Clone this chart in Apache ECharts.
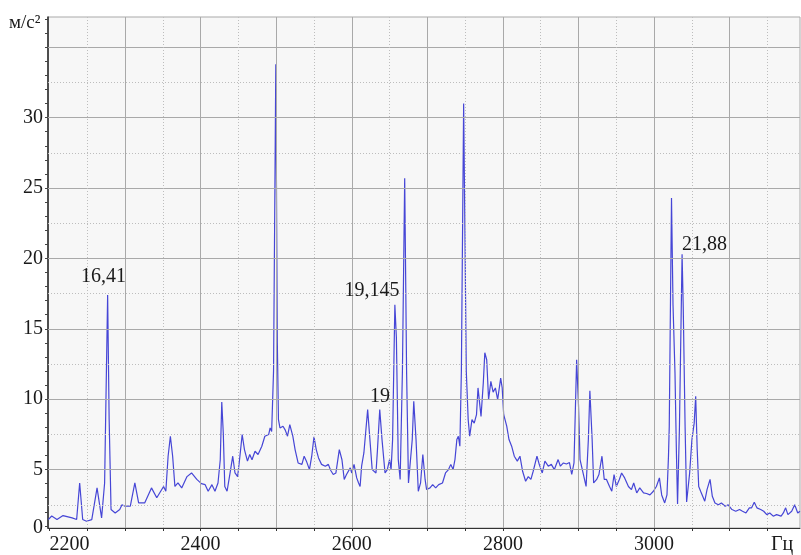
<!DOCTYPE html>
<html><head><meta charset="utf-8">
<script src="https://cdn.jsdelivr.net/npm/echarts@6/dist/echarts.min.js"></script>
<style>html,body{margin:0;padding:0;background:#fff}#c{width:801px;height:555px}</style>
</head><body><div id="c"></div>
<script>
// Frequency (Hz) and acceleration (m/s^2)
const freq = [2198.5,2203,2210,2218,2230,2236,2240,2244,2249,2256,2263,2269,2273,2277,2279,2281.5,2287,2293,2296,2300,2307,2313,2318,2326,2335,2342,2351,2354,2357,2360,2363,2366,2370,2375,2382,2388,2395,2401,2406,2410,2415,2419,2423,2426,2428,2430,2432,2435,2439,2442.5,2445.5,2449,2452,2455,2458,2462,2465,2468,2472,2476,2481,2485,2490,2492,2494,2496.5,2499.5,2501.5,2503,2505,2509,2512,2515,2518,2522,2525,2529,2534,2537,2540,2544,2547,2550,2553,2556,2560,2565,2569,2572,2575.5,2579,2583.5,2587,2590,2593,2598,2600,2603,2606.5,2609,2611,2613,2616,2621,2624,2627,2632,2634,2637,2640,2644,2647,2650,2652,2654,2657,2659,2661.5,2664,2667,2670,2672.5,2675,2677,2680,2682,2685,2688,2691,2694,2697,2699,2703.5,2707,2711,2715,2720,2724,2728,2731,2734,2736.5,2739,2741,2743,2745,2748,2751.5,2754,2756,2759,2762,2765,2767,2771,2774,2776,2778.5,2781,2784,2787,2790,2793,2797,2799,2801,2805,2808,2811.5,2815,2819,2822.5,2826,2830,2833.5,2837,2840,2845,2848,2852,2855.5,2860,2864,2868,2873,2876,2880,2884,2888,2891,2894,2897.5,2900,2902,2905,2910,2913,2915,2918,2920,2924,2927,2931,2934,2937,2941,2944,2947,2950,2954,2957,2961,2966,2970,2973,2977,2981,2986,2990,2994.5,2999,3003,3007,3010,3014,3017,3019,3020,3023,3025,3027.6,3029.5,3031,3033.5,3037,3038.5,3041,3043,3047,3050,3053,3055,3057,3059,3061.5,3064,3067,3070,3074,3077,3080.5,3085,3089,3094,3098,3103,3108,3113,3117,3121.5,3126,3129,3132.5,3136,3141,3145,3149,3153,3157.6,3162,3168,3171,3174,3177,3182,3186,3190,3193];
const accel = [1.45,1.7,1.45,1.73,1.57,1.45,4.05,1.45,1.33,1.45,3.7,1.57,4.05,17.4,8.55,2.16,1.92,2.16,2.5,2.4,2.4,4.05,2.63,2.63,3.7,3.0,3.8,3.46,5.95,7.37,5.95,3.8,4.05,3.7,4.5,4.76,4.3,4.0,3.93,3.46,3.93,3.46,4.05,5.7,9.8,7.6,3.8,3.46,4.76,5.95,4.76,4.5,5.95,7.49,6.42,5.6,6.07,5.7,6.3,6.07,6.66,7.37,7.49,7.96,7.7,12,33.8,14,8.55,7.96,8.08,7.8,7.37,8.2,7.37,6.42,5.47,5.37,5.95,5.6,5.0,5.95,7.32,6.42,5.83,5.37,5.24,5.37,4.95,4.65,4.76,6.42,5.7,4.3,4.65,5.12,4.76,5.37,4.41,4.05,3.8,5.24,6.18,9.26,7.13,5.0,4.76,6.42,9.26,7.13,4.76,5.0,5.71,5.0,7.13,16.7,14.4,5.71,4.3,12,25.7,12,4.05,3.93,7.13,9.85,7.13,3.46,4.05,6.07,4.3,3.58,3.7,3.93,3.7,3.93,4.05,4.76,5.0,5.37,5.0,5.71,7.13,7.37,6.66,12,31.0,12,8.55,7.37,8.55,8.3,8.9,10.8,8.78,11.16,13.3,12.8,9.97,11.27,10.5,10.8,9.97,11.5,10.8,8.9,8.08,7.13,6.66,5.95,5.6,5.95,4.88,4.17,4.5,4.3,4.88,5.95,5.37,4.76,5.6,5.24,5.37,5.0,5.71,5.24,5.47,5.4,5.5,4.65,5.47,12.8,9.5,5.71,5.0,3.8,7.13,10.6,7.13,4.05,4.3,4.65,5.95,4.3,4.3,3.8,3.46,4.65,3.8,4.3,4.76,4.41,3.8,3.58,4.05,3.34,3.7,3.34,3.3,3.2,3.46,3.8,4.41,3.2,2.63,3.2,5.95,8,24.3,16.7,11.9,6.2,2.56,8,20.3,16.6,8,2.7,4.76,7.13,8.3,10.2,6.42,3.8,3.46,3.58,2.75,3.58,4.3,3.1,2.63,2.5,2.63,2.4,2.5,2.16,2.04,2.16,2.04,1.92,2.28,2.28,2.68,2.28,2.16,2.04,1.8,1.92,1.69,1.8,1.69,1.92,2.28,1.8,2.04,2.5,1.92,2.04];

// Tick labels
const xTickLabels = [2200, 2400, 2600, 2800, 3000];
const yTickLabels = [0, 5, 10, 15, 20, 25, 30];

// Peak annotations
const annotText = ['16,41', '19,145', '19', '21,88'];
const annotFreq = [2271.6, 2626.7, 2637.3, 3066.6];
const annotVal = [18.67, 17.68, 10.15, 20.98];

const yUnit = 'м/с²';
const xUnit = 'Гц';

const xMin = 2198.1, xMax = 3193;
const yMin = 0.85, yMax = 37.15;

const FONT = 'Liberation Serif';
const majorStyle = { color: '#a9a9a9', width: 1, type: 'solid' };
const minorStyle = { color: '#bdbdbd', width: 1, type: [1, 2] };

const gridLines = [];
for (let v = 2.5; v < yMax; v += 2.5) {
  gridLines.push({ yAxis: v, lineStyle: (v % 5 === 0) ? majorStyle : minorStyle });
}
for (let f = 2250; f < xMax; f += 50) {
  gridLines.push({ xAxis: f, lineStyle: (f % 100 === 0) ? majorStyle : minorStyle });
}

const yTicks = [];
for (let v = 1; v <= 37; v += 1) yTicks.push(v);
const xTicks = [];
for (let f = 2200; f <= 3190; f += 50) xTicks.push(f);

const chart = echarts.init(document.getElementById('c'), null, { renderer: 'canvas' });
chart.setOption({
  animation: false,
  backgroundColor: '#ffffff',
  grid: { left: 48, right: 1, top: 17, bottom: 27, show: true, backgroundColor: '#f7f7f7', borderColor: '#a9a9a9', borderWidth: 1 },
  xAxis: {
    type: 'value', min: xMin, max: xMax,
    axisLine: { show: true, lineStyle: { color: '#333', width: 1 } },
    axisTick: { show: true, customValues: xTicks, length: 3, inside: false, lineStyle: { color: '#333' } },
    axisLabel: {
      customValues: xTickLabels, fontFamily: FONT, fontSize: 20, color: '#1a1a1a', margin: 7,
      formatter: v => String(Math.round(v)),
      alignMinLabel: 'left'
    },
    splitLine: { show: false }
  },
  yAxis: {
    type: 'value', min: yMin, max: yMax,
    axisLine: { show: true, onZero: false, lineStyle: { color: '#222', width: 1.5 } },
    axisTick: { show: true, customValues: yTicks, length: 3, lineStyle: { color: '#444' } },
    axisLabel: {
      customValues: yTickLabels.map(v => Math.max(v, yMin)),
      formatter: v => (v <= yMin + 0.001 ? '0' : String(Math.round(v))),
      fontFamily: FONT, fontSize: 20, color: '#1a1a1a', margin: 5
    },
    splitLine: { show: false }
  },
  graphic: [
    { type: 'text', left: 9, top: 14, style: { text: yUnit, font: '19px "Liberation Serif"', fill: '#1a1a1a' } },
    { type: 'text', left: 771, top: 535, style: { text: xUnit, font: '20px "Liberation Serif"', fill: '#1a1a1a' } }
  ],
  series: [
    {
      type: 'line', data: [], silent: true, z: 1,
      markLine: { silent: true, symbol: ['none', 'none'], label: { show: false }, animation: false, data: gridLines }
    },
    {
      type: 'line', z: 3,
      data: freq.map((f, i) => [f, accel[i]]),
      showSymbol: false, symbol: 'none',
      lineStyle: { color: '#4646d6', width: 1.2 },
      markPoint: {
        symbol: 'circle', symbolSize: 0,
        label: { show: true, fontFamily: FONT, fontSize: 20, color: '#1a1a1a', formatter: p => p.name, position: 'inside' },
        data: annotText.map((t, i) => ({ name: t, coord: [annotFreq[i], annotVal[i]] }))
      }
    }
  ]
});
</script>
</body></html>
